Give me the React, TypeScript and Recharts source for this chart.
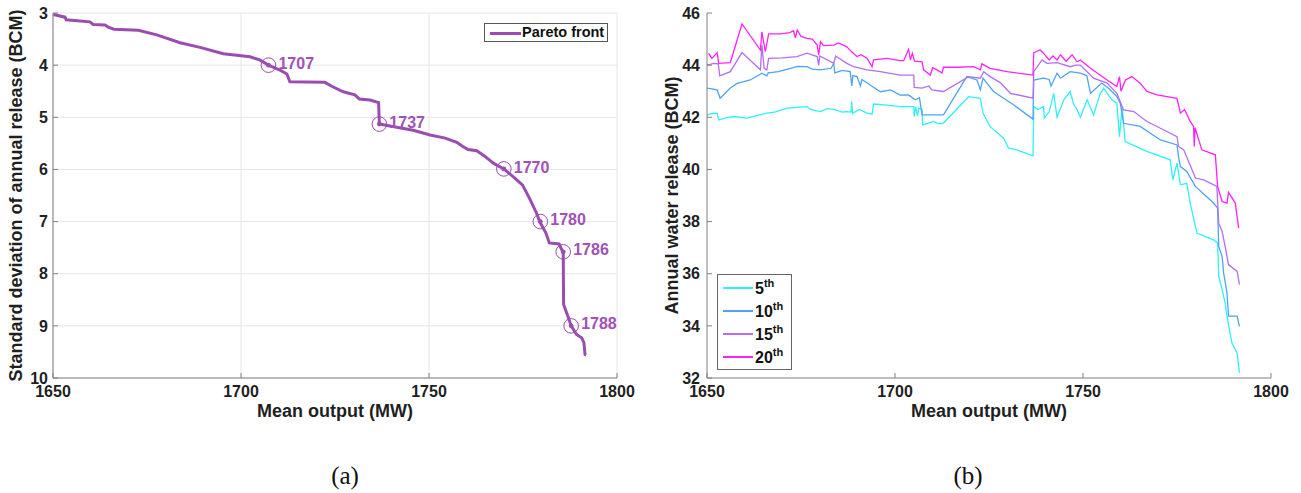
import { LineChart, Line, XAxis, YAxis, CartesianGrid } from 'recharts';

const FONT = '"Liberation Sans", Arial, Helvetica, sans-serif';
const AXIS_GRAY = '#808080';
const TEXT = '#1f1f1f';
const PURPLE = '#9a4cb0';

const xTicks = [1650, 1700, 1750, 1800];
const stdTicks = [3, 4, 5, 6, 7, 8, 9, 10];
const releaseTicks = [32, 34, 36, 38, 40, 42, 44, 46];

// (a) Pareto front: [mean output MW, std of annual release BCM]
const paretoFront: [number, number][] = [
  [1650.1, 3.03], [1653.2, 3.08], [1653.5, 3.13], [1659.8, 3.17], [1660.7, 3.22],
  [1663.8, 3.23], [1664.7, 3.27], [1666.2, 3.31], [1672.7, 3.33], [1677.6, 3.42],
  [1683.8, 3.57], [1689.1, 3.66], [1695.3, 3.78], [1702.4, 3.84], [1705.0, 3.9],
  [1707.3, 4.0], [1710.5, 4.1], [1712.2, 4.17], [1713.0, 4.32], [1722.3, 4.33],
  [1724.0, 4.4], [1727.2, 4.51], [1730.3, 4.57], [1731.5, 4.65], [1734.3, 4.67],
  [1736.6, 4.72], [1736.8, 5.13], [1741.4, 5.19], [1745.8, 5.25], [1750.3, 5.34],
  [1754.3, 5.4], [1757.4, 5.48], [1759.0, 5.56], [1760.4, 5.62], [1762.7, 5.64],
  [1764.9, 5.75], [1767.1, 5.88], [1769.9, 5.99], [1772.9, 6.17], [1774.9, 6.3],
  [1776.9, 6.58], [1778.6, 6.84], [1779.5, 7.01], [1781.1, 7.22], [1782.0, 7.41],
  [1784.6, 7.43], [1785.7, 7.6], [1785.8, 8.59], [1787.1, 8.85], [1787.8, 9.0],
  [1789.3, 9.17], [1790.6, 9.23], [1791.2, 9.32], [1791.5, 9.55], [1791.8, 9.56],
];

const paretoMarks: [number, number][] = [
  [1707.3, 4.0], [1736.8, 5.13], [1769.9, 5.99], [1779.6, 7.0], [1785.7, 7.58], [1787.8, 9.0],
];
const paretoMarkLabels = ['1707', '1737', '1770', '1780', '1786', '1788'];

// (b) annual water release percentiles: [mean output MW, release BCM]
const pct5: [number, number][] = [
  [1650.0, 42.09], [1651.5, 42.15], [1652.7, 42.16], [1653.1, 41.9], [1655.0, 41.98],
  [1657.1, 42.03], [1660.6, 41.97], [1663.0, 42.05], [1665.9, 42.16], [1668.0, 42.2],
  [1671.3, 42.35], [1674.0, 42.38], [1676.6, 42.41], [1677.5, 42.3], [1680.1, 42.22],
  [1682.0, 42.33], [1683.7, 42.3], [1686.0, 42.2], [1687.2, 42.22], [1688.3, 42.2],
  [1688.5, 42.6], [1688.7, 42.15], [1690.5, 42.3], [1692.6, 42.16], [1693.9, 42.13],
  [1694.3, 42.51], [1697.9, 42.47], [1701.4, 42.41], [1705.0, 42.41], [1705.1, 42.03],
  [1705.5, 42.4], [1706.0, 42.05], [1706.3, 42.35], [1707.2, 42.3], [1707.35, 41.71],
  [1710.3, 41.84], [1711.5, 41.75], [1712.9, 41.78], [1719.6, 42.79], [1722.7, 42.73],
  [1723.4, 42.16], [1725.3, 41.64], [1728.9, 41.2], [1730.2, 40.82], [1732.4, 40.75],
  [1736.7, 40.52], [1736.9, 42.41], [1738.0, 42.3], [1739.5, 42.41], [1739.7, 41.97],
  [1741.0, 42.2], [1742.2, 42.92], [1743.1, 42.0], [1744.9, 42.67], [1746.6, 42.99],
  [1747.5, 42.5], [1748.4, 42.3], [1749.3, 42.0], [1751.1, 42.67], [1752.8, 42.09],
  [1754.6, 42.92], [1755.5, 43.11], [1757.7, 42.67], [1759.0, 42.54], [1759.7, 41.26],
  [1760.4, 42.41], [1761.2, 41.07], [1767.0, 40.69], [1773.2, 40.37], [1773.9, 39.6],
  [1775.0, 40.24], [1775.9, 39.41], [1777.6, 39.47], [1778.5, 38.71], [1780.3, 37.56],
  [1784.7, 37.3], [1785.8, 37.18], [1786.1, 35.9], [1787.0, 35.39], [1787.8, 34.88],
  [1788.3, 34.37], [1789.6, 33.34], [1791.0, 32.96], [1791.6, 32.2],
];

const pct10: [number, number][] = [
  [1650.0, 43.12], [1652.7, 43.05], [1653.5, 42.73], [1656.2, 43.12], [1658.0, 43.3],
  [1661.5, 43.43], [1664.6, 43.69], [1665.9, 43.59], [1666.3, 43.7], [1669.0, 43.75],
  [1672.2, 43.88], [1674.0, 43.95], [1676.6, 43.94], [1678.0, 43.85], [1680.1, 43.82],
  [1683.0, 43.88], [1683.7, 44.07], [1684.0, 43.7], [1686.0, 43.8], [1688.1, 43.75],
  [1688.5, 43.2], [1688.8, 43.6], [1689.9, 43.56], [1690.8, 43.2], [1691.2, 43.45],
  [1693.4, 43.24], [1696.1, 42.98], [1698.8, 43.05], [1701.4, 42.85], [1703.6, 42.86],
  [1705.4, 42.67], [1706.5, 42.75], [1707.2, 42.09], [1712.9, 42.09], [1719.1, 43.56],
  [1721.8, 43.43], [1722.7, 43.05], [1723.4, 43.5], [1726.2, 42.99], [1728.9, 42.73],
  [1731.5, 42.48], [1736.7, 41.93], [1736.9, 43.43], [1739.5, 43.5], [1741.0, 43.45],
  [1741.5, 43.2], [1743.1, 43.69], [1744.0, 43.5], [1746.6, 43.75], [1749.3, 43.69],
  [1751.0, 43.6], [1752.0, 42.92], [1755.0, 43.31], [1756.8, 43.11], [1759.0, 42.8],
  [1759.9, 42.54], [1760.8, 41.77], [1765.2, 41.65], [1770.6, 41.13], [1775.0, 40.94],
  [1775.4, 40.5], [1775.9, 40.11], [1777.6, 39.92], [1779.9, 39.35], [1784.7, 38.71],
  [1785.8, 38.52], [1786.1, 37.05], [1787.0, 36.66], [1787.4, 36.03], [1788.3, 35.26],
  [1788.7, 34.37], [1791.0, 34.37], [1791.6, 33.98],
];

const pct15: [number, number][] = [
  [1650.0, 44.0], [1651.8, 44.07], [1653.0, 44.05], [1653.4, 43.59], [1656.2, 43.75],
  [1659.3, 44.48], [1664.2, 43.82], [1664.6, 44.77], [1665.2, 43.88], [1665.9, 43.82],
  [1666.4, 44.26], [1670.0, 44.28], [1673.9, 44.33], [1676.6, 44.46], [1679.3, 44.33],
  [1679.7, 44.0], [1680.0, 44.35], [1683.7, 44.07], [1684.2, 44.35], [1687.2, 44.07],
  [1689.0, 43.94], [1692.6, 43.82], [1696.1, 43.75], [1701.4, 43.62], [1705.0, 43.62],
  [1705.1, 43.15], [1707.2, 43.12], [1709.0, 43.2], [1709.8, 43.05], [1712.9, 42.99],
  [1719.6, 43.56], [1722.7, 43.5], [1723.6, 43.75], [1725.3, 43.56], [1728.0, 43.33],
  [1730.7, 42.92], [1736.7, 42.73], [1736.9, 43.75], [1739.1, 44.2], [1740.4, 44.07],
  [1743.1, 44.1], [1746.6, 43.94], [1748.0, 44.0], [1749.3, 44.0], [1752.8, 43.5],
  [1756.4, 43.31], [1759.0, 42.92], [1760.8, 42.28], [1763.5, 42.22], [1767.0, 41.84],
  [1770.6, 41.58], [1775.0, 41.26], [1775.4, 40.88], [1776.8, 40.75], [1779.9, 39.67],
  [1782.1, 39.6], [1785.6, 39.35], [1786.1, 37.94], [1787.0, 37.62], [1787.8, 37.05],
  [1788.7, 36.35], [1791.0, 36.09], [1791.6, 35.58],
];

const pct20: [number, number][] = [
  [1650.4, 44.46], [1651.3, 44.26], [1652.7, 44.48], [1653.1, 44.07], [1656.2, 44.1],
  [1659.3, 45.58], [1664.2, 44.58], [1664.6, 45.28], [1665.5, 44.52], [1666.4, 45.2],
  [1669.5, 45.2], [1672.0, 45.25], [1673.0, 45.32], [1673.5, 45.05], [1674.0, 45.35],
  [1675.0, 45.1], [1676.6, 45.03], [1678.0, 45.0], [1679.3, 44.77], [1679.7, 44.39],
  [1680.2, 44.9], [1681.0, 44.75], [1683.7, 44.77], [1685.0, 44.85], [1687.2, 44.7],
  [1688.5, 44.5], [1689.9, 44.33], [1691.0, 44.4], [1692.6, 44.26], [1693.9, 43.94],
  [1694.3, 44.2], [1697.9, 44.26], [1701.4, 44.17], [1702.3, 44.17], [1703.6, 44.6],
  [1704.1, 44.2], [1704.6, 44.45], [1705.2, 44.15], [1707.2, 44.13], [1707.6, 43.82],
  [1709.4, 43.62], [1710.0, 43.9], [1711.2, 43.82], [1712.5, 43.7], [1712.9, 43.92],
  [1716.5, 43.92], [1720.9, 43.94], [1722.7, 43.82], [1723.1, 44.05], [1725.3, 43.88],
  [1729.8, 43.75], [1736.7, 43.62], [1736.9, 44.48], [1738.6, 44.58], [1739.5, 44.46],
  [1741.0, 44.2], [1742.0, 44.35], [1743.1, 44.2], [1744.0, 44.4], [1745.5, 44.15],
  [1747.1, 44.4], [1748.4, 44.13], [1749.3, 44.2], [1752.0, 43.88], [1756.4, 43.43],
  [1759.0, 43.18], [1759.7, 43.56], [1760.1, 43.0], [1761.3, 43.43], [1763.0, 43.56],
  [1765.2, 43.31], [1767.0, 42.99], [1769.7, 42.86], [1775.0, 42.73], [1775.9, 42.16],
  [1777.0, 42.3], [1778.5, 41.84], [1779.4, 41.65], [1779.6, 40.88], [1779.8, 41.6],
  [1781.6, 40.75], [1785.2, 40.56], [1785.8, 39.35], [1787.0, 38.77], [1788.3, 38.71],
  [1788.7, 39.12], [1790.5, 38.71], [1791.4, 37.75],
];

const percentileSeries = [pct5, pct10, pct15, pct20];
const percentileNames = ['5', '10', '15', '20'];
const percentileColors = ['#2ef2f5', '#4fa3f7', '#b26ef5', '#ff22ff'];

const toPoints = (pairs: [number, number][]) => pairs.map(([x, y]) => ({ x, y }));

const tickStyle = { fill: TEXT, fontSize: 16, fontWeight: 700, fontFamily: FONT };
const titleStyle = { fill: TEXT, fontSize: 18, fontWeight: 700, fontFamily: FONT, textAnchor: 'middle' as const };

function MarkerDot(props: any) {
  const { cx, cy, payload, index } = props;
  if (cx == null || cy == null) return null;
  return (
    <g key={`mk-${index}`}>
      <circle cx={cx} cy={cy} r={7.3} fill="none" stroke={PURPLE} strokeWidth={1} />
      <circle cx={cx} cy={cy} r={2.4} fill={PURPLE} />
      <text
        x={cx + 10}
        y={cy - 2}
        dy="0.35em"
        fill="#a052b8"
        fontSize={16}
        fontWeight={700}
        fontFamily={FONT}
      >
        {payload.label}
      </text>
    </g>
  );
}

function ParetoChart() {
  const front = toPoints(paretoFront);
  const marks = paretoMarks.map(([x, y], i) => ({ x, y, label: paretoMarkLabels[i] }));
  return (
    <LineChart width={650} height={440} margin={{ top: 13, right: 33, bottom: 22, left: 0 }}>
      <CartesianGrid stroke="#e6e6e6" strokeWidth={1} />
      <XAxis
        dataKey="x"
        type="number"
        domain={[1650, 1800]}
        ticks={xTicks}
        allowDataOverflow
        height={40}
        stroke={AXIS_GRAY}
        tickSize={-5}
        tickMargin={13}
        tick={tickStyle}
        label={{ value: 'Mean output (MW)', position: 'insideBottom', offset: 1, style: titleStyle }}
      />
      <XAxis
        xAxisId="top"
        orientation="top"
        type="number"
        domain={[1650, 1800]}
        ticks={xTicks}
        allowDataOverflow
        height={0}
        stroke={AXIS_GRAY}
        tickSize={-5}
        tick={false}
      />
      <YAxis
        type="number"
        domain={[3, 10]}
        ticks={stdTicks}
        reversed
        allowDataOverflow
        width={53}
        stroke={AXIS_GRAY}
        tickSize={-5}
        tickMargin={10}
        tick={tickStyle}
        label={{
          value: 'Standard deviation of annual release (BCM)',
          angle: -90,
          position: 'insideLeft',
          offset: 16,
          style: titleStyle,
        }}
      />
      <YAxis
        yAxisId="right"
        orientation="right"
        type="number"
        domain={[3, 10]}
        ticks={stdTicks}
        reversed
        allowDataOverflow
        width={0}
        stroke={AXIS_GRAY}
        tickSize={-5}
        tick={false}
      />
      <Line
        data={front}
        dataKey="y"
        type="linear"
        stroke={PURPLE}
        strokeWidth={3}
        dot={false}
        isAnimationActive={false}
      />
      <Line
        data={marks}
        dataKey="y"
        stroke="none"
        dot={(p: any) => <MarkerDot {...p} />}
        activeDot={false}
        isAnimationActive={false}
      />
    </LineChart>
  );
}

function ReleaseChart() {
  return (
    <LineChart width={651} height={440} margin={{ top: 13, right: 30, bottom: 22, left: 0 }}>
      <XAxis
        dataKey="x"
        type="number"
        domain={[1650, 1800]}
        ticks={xTicks}
        allowDataOverflow
        height={40}
        stroke={AXIS_GRAY}
        tickSize={-5}
        tickMargin={13}
        tick={tickStyle}
        label={{ value: 'Mean output (MW)', position: 'insideBottom', offset: 1, style: titleStyle }}
      />
      <XAxis
        xAxisId="top"
        orientation="top"
        type="number"
        domain={[1650, 1800]}
        ticks={xTicks}
        allowDataOverflow
        height={0}
        stroke={AXIS_GRAY}
        tickSize={-5}
        tick={false}
      />
      <YAxis
        type="number"
        domain={[32, 46]}
        ticks={releaseTicks}
        allowDataOverflow
        width={57}
        stroke={AXIS_GRAY}
        tickSize={-5}
        tickMargin={12}
        tick={tickStyle}
        label={{
          value: 'Annual water release (BCM)',
          angle: -90,
          position: 'insideLeft',
          offset: 22,
          style: titleStyle,
        }}
      />
      <YAxis
        yAxisId="right"
        orientation="right"
        type="number"
        domain={[32, 46]}
        ticks={releaseTicks}
        allowDataOverflow
        width={0}
        stroke={AXIS_GRAY}
        tickSize={-5}
        tick={false}
      />
      {percentileSeries.map((s, i) => (
        <Line
          key={percentileNames[i]}
          data={toPoints(s)}
          dataKey="y"
          name={`${percentileNames[i]}th`}
          type="linear"
          stroke={percentileColors[i]}
          strokeWidth={1.3}
          dot={false}
          isAnimationActive={false}
        />
      ))}
    </LineChart>
  );
}

export default function App() {
  return (
    <div
      style={{
        position: 'absolute',
        left: 0,
        top: 0,
        width: 1301,
        height: 493,
        background: '#fff',
        fontFamily: FONT,
        overflow: 'hidden',
      }}
    >
      <div style={{ position: 'absolute', left: 0, top: 0 }}>
        <ParetoChart />
      </div>
      <div style={{ position: 'absolute', left: 650, top: 0 }}>
        <ReleaseChart />
      </div>

      {/* legend (a) */}
      <div
        style={{
          position: 'absolute',
          left: 484,
          top: 23,
          width: 122,
          height: 17,
          border: '1px solid #555',
          background: '#fff',
        }}
      >
        <div style={{ position: 'absolute', left: 5, top: 7.5, width: 31, height: 3, background: PURPLE }} />
        <div
          style={{
            position: 'absolute',
            left: 37,
            top: 0,
            lineHeight: '17px',
            fontSize: 14.5,
            fontWeight: 700,
            color: '#111',
            whiteSpace: 'nowrap',
          }}
        >
          Pareto front
        </div>
      </div>

      {/* legend (b) */}
      <div
        style={{
          position: 'absolute',
          left: 717,
          top: 274,
          width: 73,
          height: 94,
          border: '1px solid #666',
          background: '#fff',
        }}
      >
        {percentileNames.map((n, i) => (
          <div key={n} style={{ position: 'absolute', left: 0, top: 2 + i * 23, width: 73, height: 22 }}>
            <div
              style={{
                position: 'absolute',
                left: 5,
                top: 10,
                width: 30,
                height: 1.6,
                background: percentileColors[i],
              }}
            />
            <div
              style={{
                position: 'absolute',
                left: 37,
                top: 2,
                lineHeight: '20px',
                fontSize: 16,
                fontWeight: 700,
                color: '#111',
                whiteSpace: 'nowrap',
              }}
            >
              {n}
              <span style={{ fontSize: 11, position: 'relative', top: -7 }}>th</span>
            </div>
          </div>
        ))}
      </div>

      <div
        style={{
          position: 'absolute',
          left: 295,
          top: 461,
          width: 100,
          textAlign: 'center',
          fontFamily: '"Liberation Serif", "Times New Roman", serif',
          fontSize: 25,
          lineHeight: '30px',
          color: '#111',
        }}
      >
        (a)
      </div>
      <div
        style={{
          position: 'absolute',
          left: 918,
          top: 461,
          width: 100,
          textAlign: 'center',
          fontFamily: '"Liberation Serif", "Times New Roman", serif',
          fontSize: 25,
          lineHeight: '30px',
          color: '#111',
        }}
      >
        (b)
      </div>
    </div>
  );
}
